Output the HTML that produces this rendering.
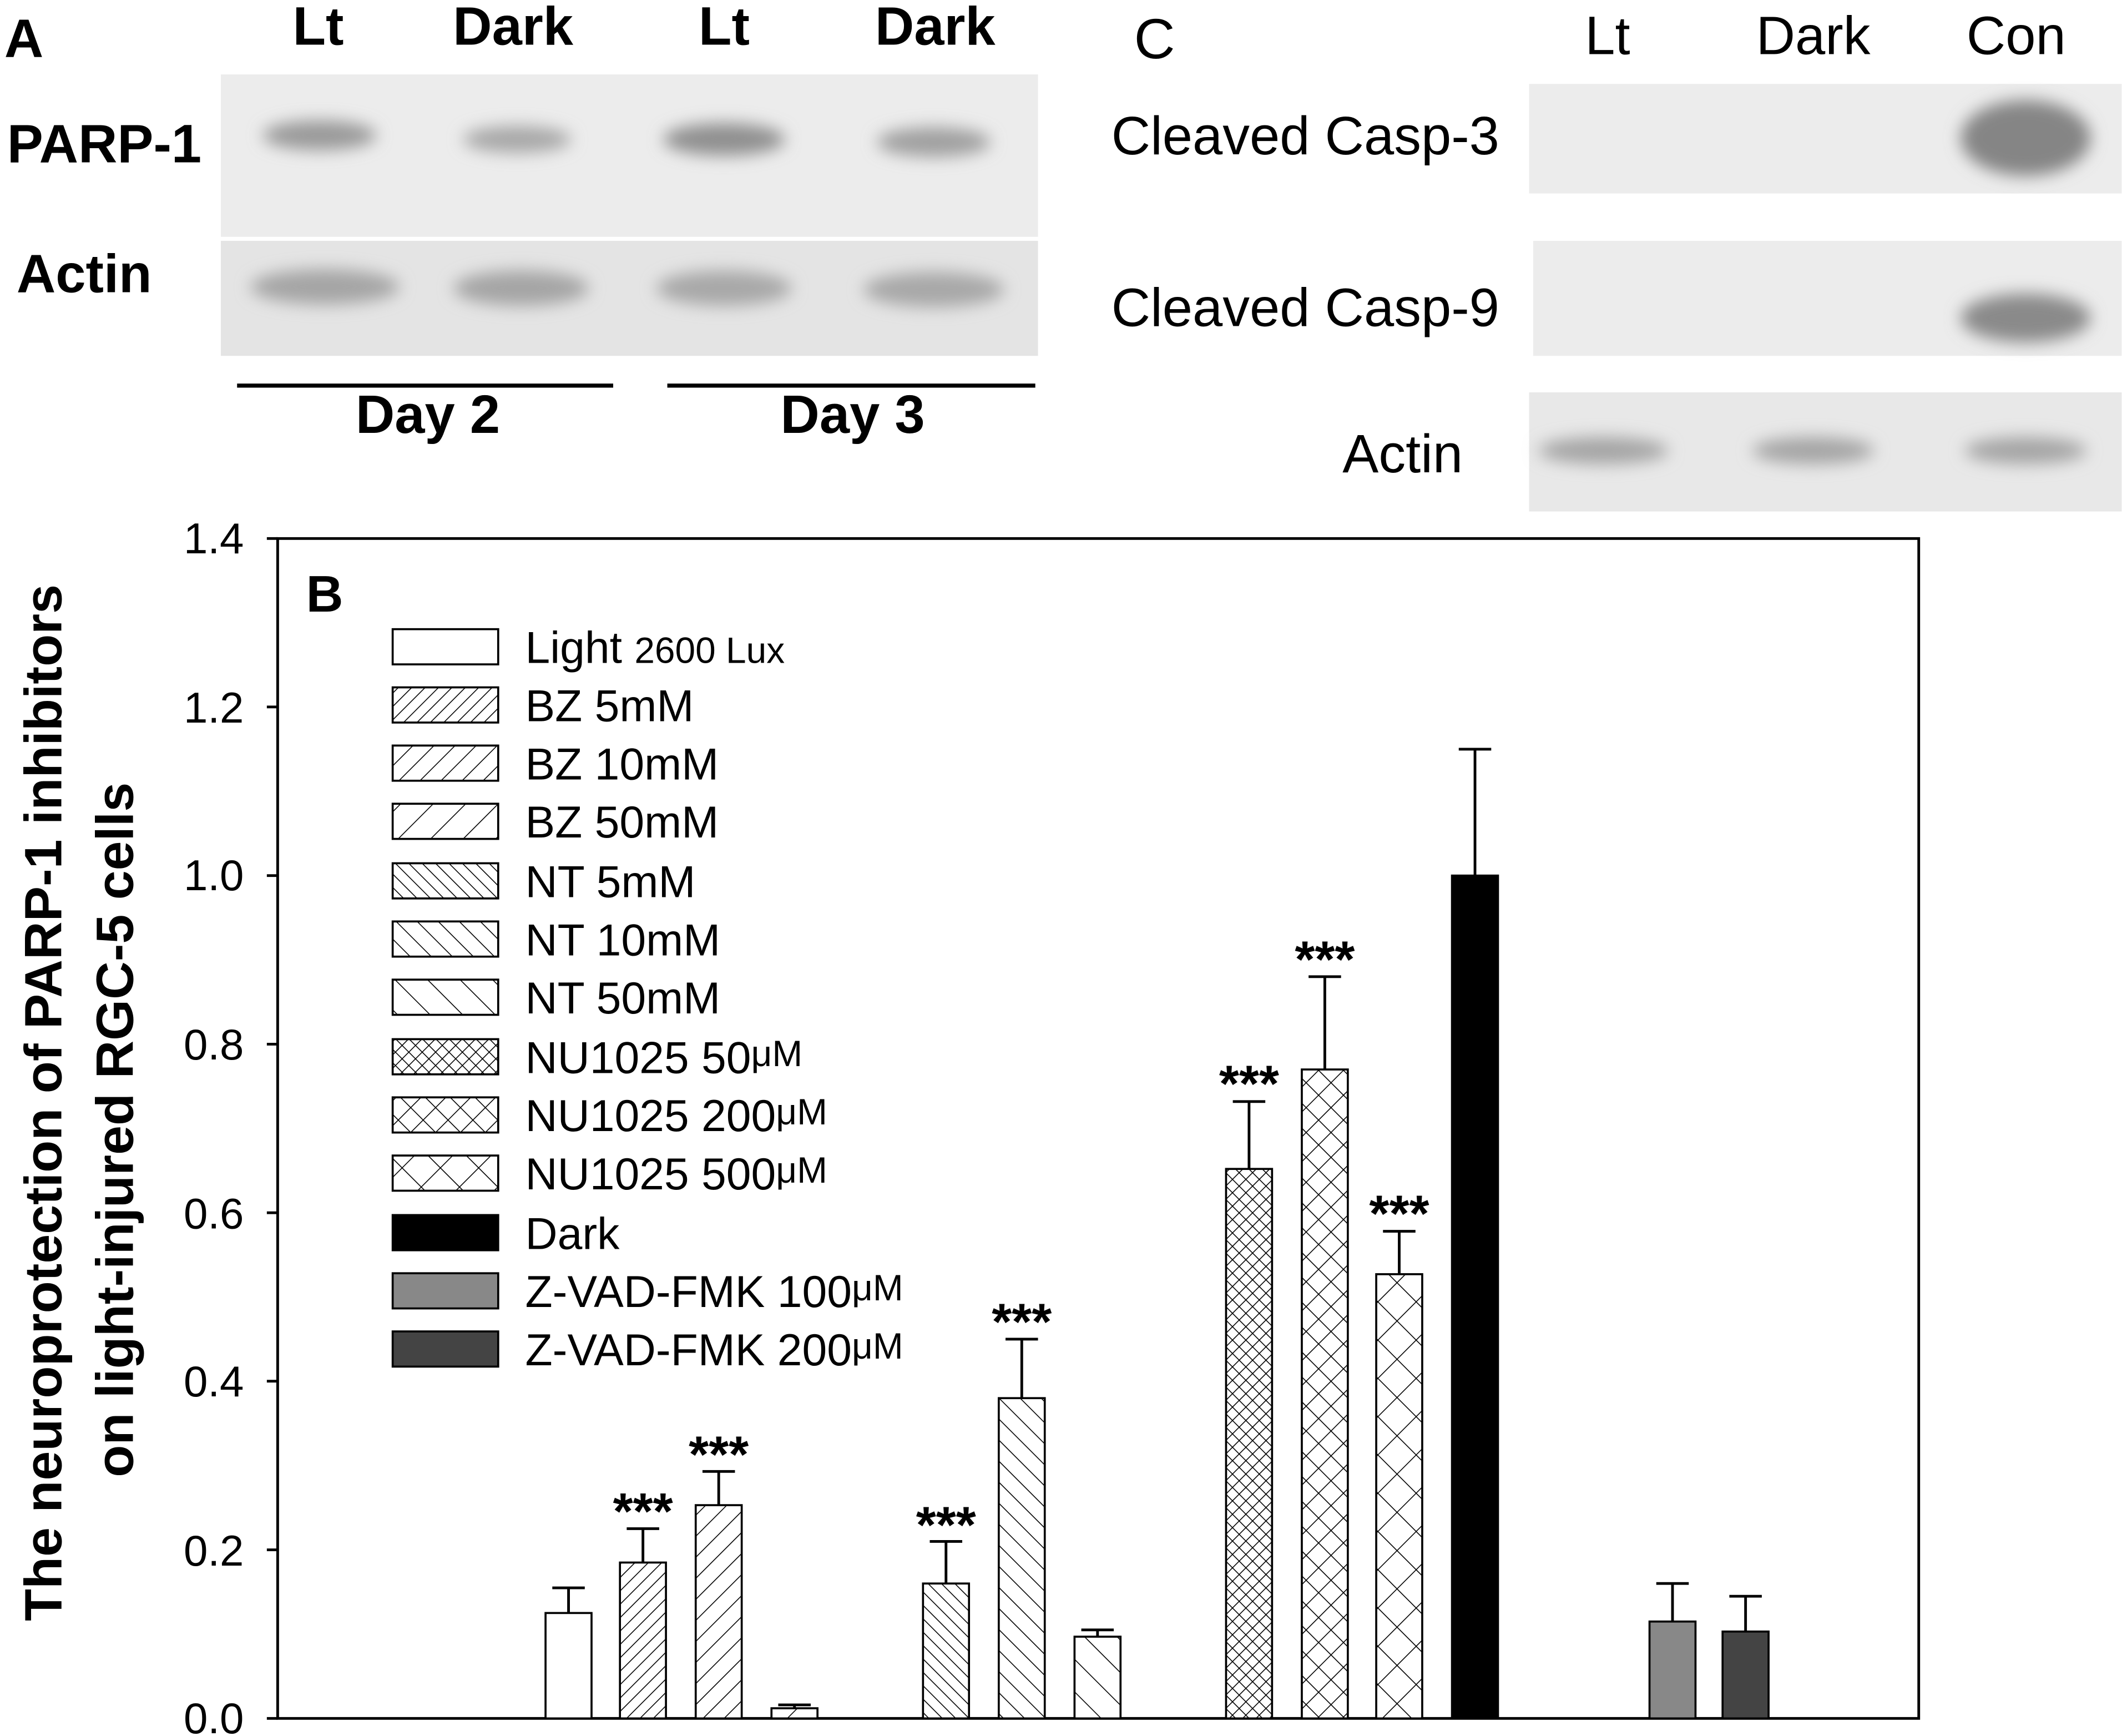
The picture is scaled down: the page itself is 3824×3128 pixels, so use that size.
<!DOCTYPE html>
<html><head><meta charset="utf-8"><style>
html,body{margin:0;padding:0;background:#fff;}
svg{display:block;}
text{font-family:"Liberation Sans",Arial,sans-serif;}
</style></head><body>
<svg width="3824" height="3128" viewBox="0 0 1568 1283" xmlns="http://www.w3.org/2000/svg">
<defs>
<filter id="bl" x="-50%" y="-50%" width="200%" height="200%"><feGaussianBlur stdDeviation="6"/></filter>
<pattern id="f1" width="7" height="7" patternUnits="userSpaceOnUse" patternTransform="rotate(45)"><rect width="7" height="7" fill="#fff"/><line x1="0" y1="0" x2="0" y2="7" stroke="#000" stroke-width="1.3"/></pattern>
<pattern id="f2" width="11" height="11" patternUnits="userSpaceOnUse" patternTransform="rotate(45)"><rect width="11" height="11" fill="#fff"/><line x1="0" y1="0" x2="0" y2="11" stroke="#000" stroke-width="1.3"/></pattern>
<pattern id="f3" width="17" height="17" patternUnits="userSpaceOnUse" patternTransform="rotate(45)"><rect width="17" height="17" fill="#fff"/><line x1="0" y1="0" x2="0" y2="17" stroke="#000" stroke-width="1.3"/></pattern>
<pattern id="b1" width="7" height="7" patternUnits="userSpaceOnUse" patternTransform="rotate(-45)"><rect width="7" height="7" fill="#fff"/><line x1="0" y1="0" x2="0" y2="7" stroke="#000" stroke-width="1.3"/></pattern>
<pattern id="b2" width="11" height="11" patternUnits="userSpaceOnUse" patternTransform="rotate(-45)"><rect width="11" height="11" fill="#fff"/><line x1="0" y1="0" x2="0" y2="11" stroke="#000" stroke-width="1.3"/></pattern>
<pattern id="b3" width="17" height="17" patternUnits="userSpaceOnUse" patternTransform="rotate(-45)"><rect width="17" height="17" fill="#fff"/><line x1="0" y1="0" x2="0" y2="17" stroke="#000" stroke-width="1.3"/></pattern>
<pattern id="x1" width="7" height="7" patternUnits="userSpaceOnUse" patternTransform="rotate(45)"><rect width="7" height="7" fill="#fff"/><line x1="0" y1="0" x2="0" y2="7" stroke="#000" stroke-width="1.3"/><line x1="0" y1="0" x2="7" y2="0" stroke="#000" stroke-width="1.3"/></pattern>
<pattern id="x2" width="13" height="13" patternUnits="userSpaceOnUse" patternTransform="rotate(45)"><rect width="13" height="13" fill="#fff"/><line x1="0" y1="0" x2="0" y2="13" stroke="#000" stroke-width="1.3"/><line x1="0" y1="0" x2="13" y2="0" stroke="#000" stroke-width="1.3"/></pattern>
<pattern id="x3" width="20" height="20" patternUnits="userSpaceOnUse" patternTransform="rotate(45)"><rect width="20" height="20" fill="#fff"/><line x1="0" y1="0" x2="0" y2="20" stroke="#000" stroke-width="1.3"/><line x1="0" y1="0" x2="20" y2="0" stroke="#000" stroke-width="1.3"/></pattern>
</defs>

<!-- Panel A -->
<text x="3" y="42" font-size="40" font-weight="bold">A</text>
<g font-size="40" font-weight="bold" text-anchor="middle">
<text x="235" y="33">Lt</text><text x="379" y="33">Dark</text><text x="535" y="33">Lt</text><text x="691" y="33">Dark</text>
</g>
<rect x="163" y="55" width="604" height="120" fill="#ececec"/>
<rect x="163" y="178" width="604" height="85" fill="#e4e4e4"/>
<g filter="url(#bl)" fill="#9a9a9a">
<ellipse cx="236" cy="100" rx="42" ry="11"/><ellipse cx="382" cy="103" rx="40" ry="10" fill="#a8a8a8"/>
<ellipse cx="535" cy="103" rx="45" ry="12" fill="#909090"/><ellipse cx="690" cy="105" rx="42" ry="11" fill="#a0a0a0"/>
<ellipse cx="240" cy="212" rx="55" ry="13" fill="#a5a5a5"/><ellipse cx="385" cy="213" rx="50" ry="13" fill="#a5a5a5"/>
<ellipse cx="535" cy="213" rx="50" ry="13" fill="#a8a8a8"/><ellipse cx="690" cy="214" rx="52" ry="13" fill="#a8a8a8"/>
</g>
<text x="5" y="120" font-size="40" font-weight="bold">PARP-1</text>
<text x="12" y="216" font-size="40" font-weight="bold">Actin</text>
<line x1="175" y1="285" x2="453" y2="285" stroke="#000" stroke-width="3"/>
<line x1="493" y1="285" x2="765" y2="285" stroke="#000" stroke-width="3"/>
<text x="316" y="320" font-size="40" font-weight="bold" text-anchor="middle">Day 2</text>
<text x="630" y="320" font-size="40" font-weight="bold" text-anchor="middle">Day 3</text>

<!-- Panel C -->
<text x="838" y="43" font-size="42">C</text>
<g font-size="40" text-anchor="middle">
<text x="1188" y="40">Lt</text><text x="1340" y="40">Dark</text><text x="1490" y="40">Con</text>
</g>
<rect x="1130" y="62" width="438" height="81" fill="#ececec"/>
<rect x="1133" y="178" width="435" height="85" fill="#ececec"/>
<rect x="1130" y="290" width="438" height="88" fill="#e8e8e8"/>
<g filter="url(#bl)">
<ellipse cx="1497" cy="102" rx="48" ry="28" fill="#858585"/>
<ellipse cx="1497" cy="235" rx="48" ry="18" fill="#8a8a8a"/>
<ellipse cx="1185" cy="333" rx="48" ry="10" fill="#a5a5a5"/>
<ellipse cx="1340" cy="333" rx="45" ry="10" fill="#a5a5a5"/>
<ellipse cx="1497" cy="333" rx="45" ry="10" fill="#a5a5a5"/>
</g>
<g font-size="40" text-anchor="end">
<text x="1108" y="114">Cleaved Casp-3</text>
<text x="1108" y="241">Cleaved Casp-9</text>
<text x="1081" y="349">Actin</text>
</g>

<!-- Panel B -->
<rect x="205" y="398" width="1213" height="872" fill="none" stroke="#000" stroke-width="2"/>
<g stroke="#000" stroke-width="2">
<line x1="197" y1="1270" x2="205" y2="1270"/><line x1="197" y1="1145.4" x2="205" y2="1145.4"/>
<line x1="197" y1="1020.8" x2="205" y2="1020.8"/><line x1="197" y1="896.3" x2="205" y2="896.3"/>
<line x1="197" y1="771.7" x2="205" y2="771.7"/><line x1="197" y1="647.1" x2="205" y2="647.1"/>
<line x1="197" y1="522.5" x2="205" y2="522.5"/><line x1="197" y1="398" x2="205" y2="398"/>
</g>
<g font-size="32" text-anchor="end">
<text x="180" y="1281">0.0</text><text x="180" y="1157">0.2</text><text x="180" y="1032">0.4</text>
<text x="180" y="908">0.6</text><text x="180" y="783">0.8</text><text x="180" y="658">1.0</text>
<text x="180" y="534">1.2</text><text x="180" y="409">1.4</text>
</g>
<g font-size="39" font-weight="bold" text-anchor="middle">
<text transform="translate(45,815) rotate(-90)">The neuroprotection of PARP-1 inhibitors</text>
<text transform="translate(98,835) rotate(-90)">on light-injured RGC-5 cells</text>
</g>
<text x="226" y="452" font-size="38" font-weight="bold">B</text>

<!-- legend -->
<g stroke="#000" stroke-width="1.5">
<rect x="290" y="465" width="78" height="26" fill="#fff"/>
<rect x="290" y="508" width="78" height="26" fill="url(#f1)"/>
<rect x="290" y="551" width="78" height="26" fill="url(#f2)"/>
<rect x="290" y="594" width="78" height="26" fill="url(#f3)"/>
<rect x="290" y="638" width="78" height="26" fill="url(#b1)"/>
<rect x="290" y="681" width="78" height="26" fill="url(#b2)"/>
<rect x="290" y="724" width="78" height="26" fill="url(#b3)"/>
<rect x="290" y="768" width="78" height="26" fill="url(#x1)"/>
<rect x="290" y="811" width="78" height="26" fill="url(#x2)"/>
<rect x="290" y="854" width="78" height="26" fill="url(#x3)"/>
<rect x="290" y="898" width="78" height="26" fill="#000"/>
<rect x="290" y="941" width="78" height="26" fill="#888"/>
<rect x="290" y="984" width="78" height="26" fill="#444"/>
</g>
<g font-size="33">
<text x="388" y="490">Light <tspan font-size="27">2600 Lux</tspan></text>
<text x="388" y="533">BZ 5mM</text><text x="388" y="576">BZ 10mM</text><text x="388" y="619">BZ 50mM</text>
<text x="388" y="663">NT 5mM</text><text x="388" y="706">NT 10mM</text><text x="388" y="749">NT 50mM</text>
<text x="388" y="793">NU1025 50<tspan font-size="27" dy="-5">μM</tspan></text>
<text x="388" y="836">NU1025 200<tspan font-size="27" dy="-5">μM</tspan></text>
<text x="388" y="879">NU1025 500<tspan font-size="27" dy="-5">μM</tspan></text>
<text x="388" y="923">Dark</text>
<text x="388" y="966">Z-VAD-FMK 100<tspan font-size="27" dy="-5">μM</tspan></text>
<text x="388" y="1009">Z-VAD-FMK 200<tspan font-size="27" dy="-5">μM</tspan></text>
</g>

<!-- bars -->
<g stroke="#000" stroke-width="1.5">
<rect x="403" y="1192.1" width="34" height="77.9" fill="#fff"/>
<rect x="458" y="1154.8" width="34" height="115.2" fill="url(#f1)"/>
<rect x="514" y="1112.4" width="34" height="157.6" fill="url(#f2)"/>
<rect x="570" y="1262.5" width="34" height="7.5" fill="url(#f3)"/>
<rect x="682" y="1170.3" width="34" height="99.7" fill="url(#b1)"/>
<rect x="738" y="1033.3" width="34" height="236.7" fill="url(#b2)"/>
<rect x="794" y="1209.6" width="34" height="60.4" fill="url(#b3)"/>
<rect x="906" y="863.9" width="34" height="406.1" fill="url(#x1)"/>
<rect x="962" y="790.4" width="34" height="479.6" fill="url(#x2)"/>
<rect x="1017" y="941.7" width="34" height="328.3" fill="url(#x3)"/>
<rect x="1073" y="647.1" width="34" height="622.9" fill="#000"/>
<rect x="1219" y="1198.4" width="34" height="71.6" fill="#888"/>
<rect x="1273" y="1205.8" width="34" height="64.2" fill="#444"/>
</g>
<!-- error bars -->
<g stroke="#000" stroke-width="2" fill="none">
<path d="M420 1192V1173.5M408 1173.5H432"/>
<path d="M475 1155V1129.8M463 1129.8H487"/>
<path d="M531 1112V1087.5M519 1087.5H543"/>
<path d="M587 1262V1260M575 1260H599"/>
<path d="M699 1170V1139.2M687 1139.2H711"/>
<path d="M755 1033V989.7M743 989.7H767"/>
<path d="M811 1209V1204.6M799 1204.6H823"/>
<path d="M923 864V814.1M911 814.1H935"/>
<path d="M979 790V721.8M967 721.8H991"/>
<path d="M1034 941V910M1022 910H1046"/>
<path d="M1090 647V553.7M1078 553.7H1102"/>
<path d="M1236 1198V1170.3M1224 1170.3H1248"/>
<path d="M1290 1206V1179.7M1278 1179.7H1302"/>
</g>
<g font-size="38" font-weight="bold" text-anchor="middle">
<text x="475" y="1130">***</text><text x="531" y="1088">***</text>
<text x="699" y="1140">***</text><text x="755" y="990">***</text>
<text x="923" y="814">***</text><text x="979" y="722">***</text><text x="1034" y="910">***</text>
</g>
</svg>
</body></html>
